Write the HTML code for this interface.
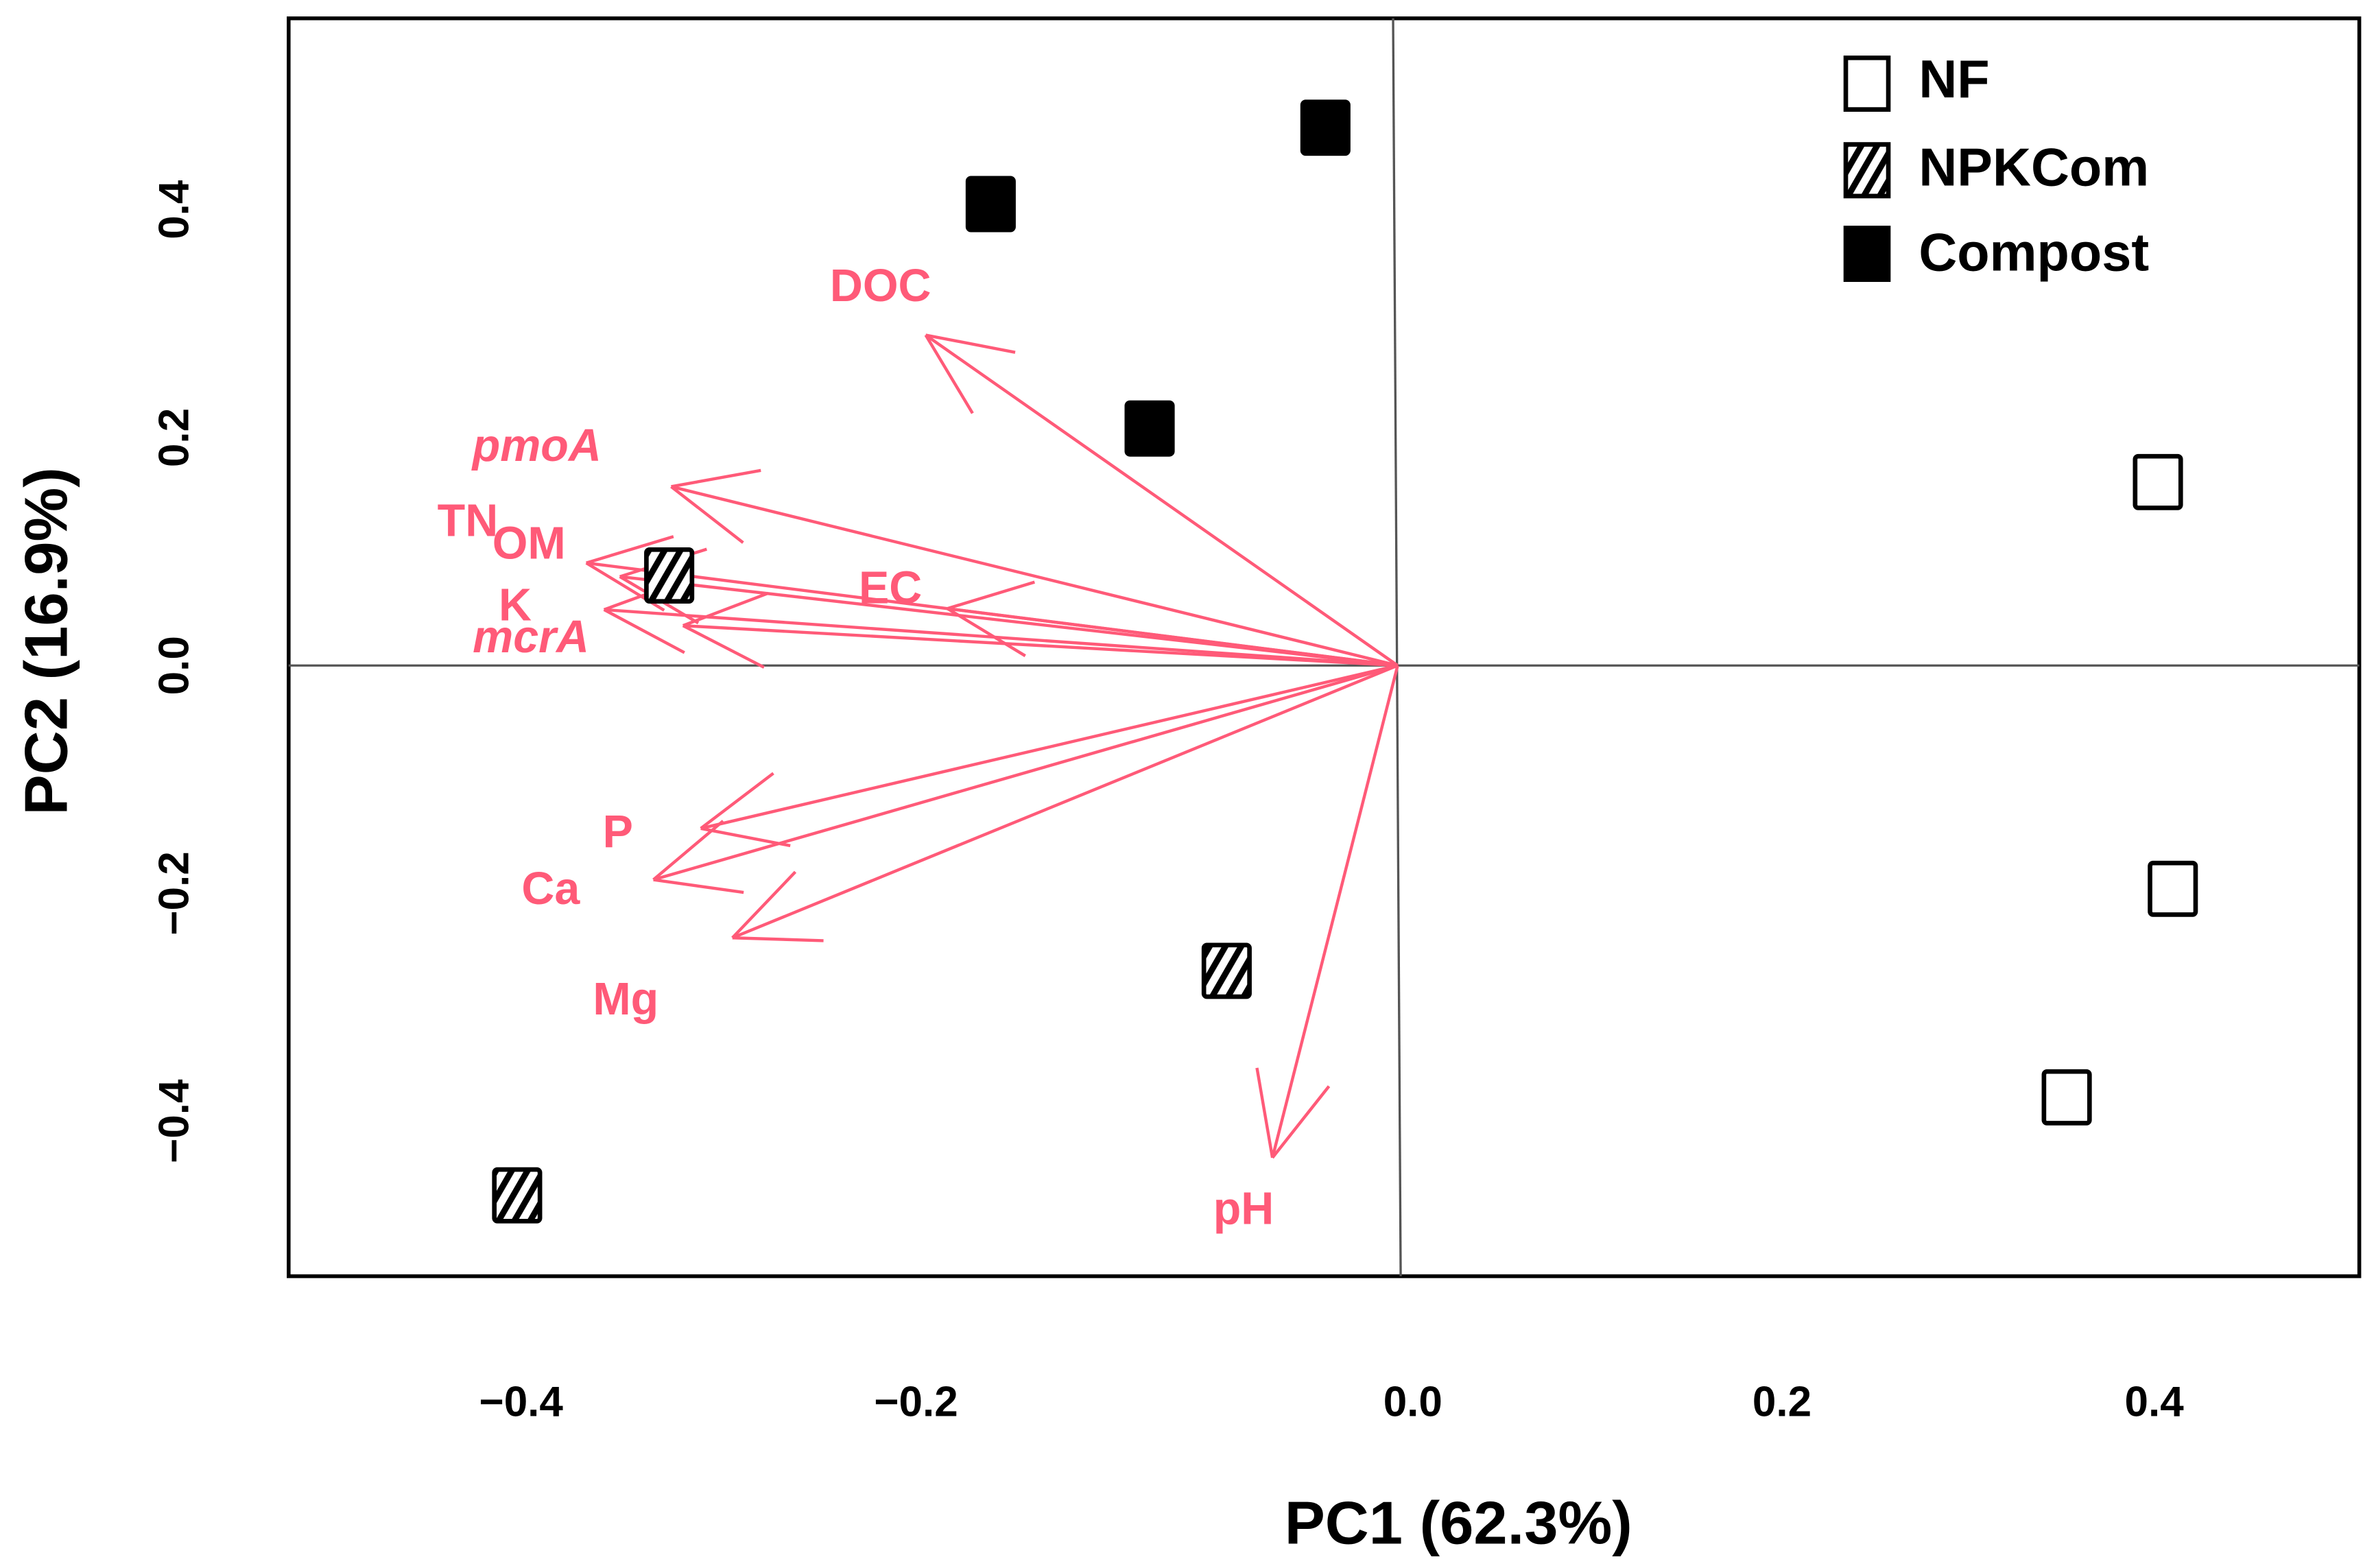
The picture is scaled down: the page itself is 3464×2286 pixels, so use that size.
<!DOCTYPE html>
<html><head><meta charset="utf-8"><style>
html,body{margin:0;padding:0;background:#fff}
svg{display:block}
text{font-family:"Liberation Sans",Arial,sans-serif;font-weight:bold}
</style></head><body>
<svg id="chart" width="3464" height="2286" viewBox="0 0 1564 1032" xmlns="http://www.w3.org/2000/svg">
<defs>
<pattern id="hatch" patternUnits="userSpaceOnUse" width="9" height="9" patternTransform="rotate(30)">
<rect width="9" height="9" fill="#fff"/><rect width="4" height="9" fill="#000"/>
</pattern>
</defs>
<rect x="190" y="12" width="1363" height="828" fill="none" stroke="#000" stroke-width="2.5"/>
<g id="grid"></g><g id="arrows"></g><g id="points"></g><g id="ticks"></g>
<g>
<rect x="1215" y="38" width="28" height="34" fill="#fff" stroke="#000" stroke-width="3"/>
<text x="1263" y="64" font-size="35">NF</text>
<rect x="1215" y="95" width="28" height="34" fill="url(#hatch)" stroke="#000" stroke-width="3"/>
<text x="1263" y="122" font-size="35">NPKCom</text>
<rect x="1215" y="150" width="28" height="34" fill="#000" stroke="#000" stroke-width="3"/>
<text x="1263" y="178" font-size="35">Compost</text>
</g>
<text x="960" y="1016" font-size="40" text-anchor="middle">PC1 (62.3%)</text>
<text transform="translate(44,422) rotate(-90)" font-size="40" text-anchor="middle">PC2 (16.9%)</text>
</svg>
<script>
const xTicks=[-0.4,-0.2,0.0,0.2,0.4];
const yTicks=[-0.4,-0.2,0.0,0.2,0.4];
const groups=["NF","NF","NF","NPKCom","NPKCom","NPKCom","Compost","Compost","Compost"];
const pc1=[0.402,0.410,0.353,-0.325,-0.071,-0.402,-0.169,-0.030,-0.103];
const pc2=[0.161,-0.196,-0.379,0.079,-0.268,-0.465,0.405,0.472,0.208];
const vars=["DOC","pmoA","TN","OM","K","mcrA","EC","P","Ca","Mg","pH"];
const load1=[-0.196,-0.324,-0.367,-0.350,-0.358,-0.318,-0.187,-0.309,-0.333,-0.293,-0.052];
const load2=[0.290,0.157,0.090,0.078,0.049,0.035,0.050,-0.143,-0.188,-0.239,-0.432];
const labX=[-0.218,-0.392,-0.427,-0.396,-0.403,-0.395,-0.213,-0.351,-0.385,-0.347,-0.064];
const labY=[0.333,0.193,0.127,0.107,0.053,0.025,0.068,-0.146,-0.196,-0.293,-0.477];
const xd=[-0.4,-0.2,0,0.2,0.4], xr=[343,603,920,1173,1418];
function X(v){let i=0;if(v<=xd[0])i=0;else if(v>=xd[4])i=3;else{while(v>xd[i+1])i++;}
return xr[i]+(v-xd[i])/(xd[i+1]-xd[i])*(xr[i+1]-xr[i]);}
function Y(v){return 438-750*v;}
const NS="http://www.w3.org/2000/svg";
function mk(t,a,p){const e=document.createElementNS(NS,t);for(const k in a)e.setAttribute(k,a[k]);p.appendChild(e);return e;}
const grid=document.getElementById('grid');
let l=mk('line',{x1:190,x2:1553,y1:Y(0),y2:Y(0),stroke:'#555','stroke-width':1.5},grid);


l=mk('line',{x1:X(0)-3,x2:X(0)+2,y1:12,y2:840,stroke:'#555','stroke-width':1.5},grid);


const tk=document.getElementById('ticks');
xTicks.forEach(v=>{const t=mk('text',{x:X(v)+(v===0?10:0),y:932,'font-size':28,'text-anchor':'middle'},tk);
t.textContent=(v<0?'\u2212':'')+Math.abs(v).toFixed(1);

});
yTicks.forEach(v=>{const t=mk('text',{transform:`translate(124,${Y(v)}) rotate(-90)`,'font-size':28,'text-anchor':'middle'},tk);
t.textContent=(v<0?'\u2212':'')+Math.abs(v).toFixed(1);

});
const ag=document.getElementById('arrows');const col='#ff5a78';
const ox=X(0),oy=Y(0);
vars.forEach((n,i)=>{const tx=X(load1[i]),ty=Y(load2[i]);
const g=mk('g',{},ag);


mk('line',{x1:ox,y1:oy,x2:tx,y2:ty,stroke:col,'stroke-width':2},g);
const a=Math.atan2(oy-ty,ox-tx),L=60,h=0.42;
[a+h,a-h].forEach(b=>mk('line',{x1:tx,y1:ty,x2:tx+L*Math.cos(b),y2:ty+L*Math.sin(b),stroke:col,'stroke-width':2},g));
const italic=(n==='pmoA'||n==='mcrA');
const t=mk('text',{x:X(labX[i]),y:Y(labY[i])+10,'font-size':30,'text-anchor':'middle',fill:col,'font-style':italic?'italic':'normal'},ag);
t.textContent=n;

});
const pg=document.getElementById('points');
groups.forEach((g,i)=>{const fill=g==='NF'?'#fff':g==='Compost'?'#000':'url(#hatch)';
const r=mk('rect',{x:X(pc1[i])-15,y:Y(pc2[i])-17,width:30,height:34,fill:fill,stroke:'#000','stroke-width':3,rx:2},pg);

});
</script>
</body></html>
